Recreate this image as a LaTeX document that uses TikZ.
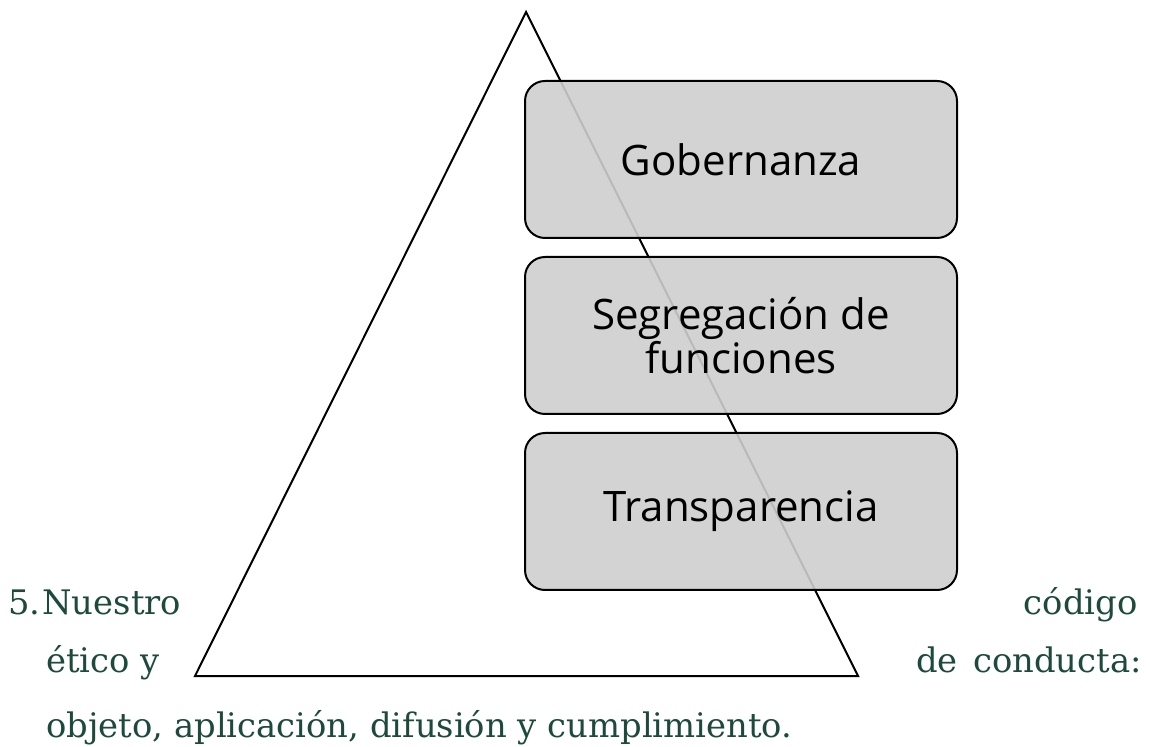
\documentclass[tikz,border=0pt]{standalone}
\usepackage{fontspec}
\setmainfont{DejaVu Serif}
\newfontfamily\boxfont{Open Sans}
\usetikzlibrary{positioning}
\definecolor{textgreen}{HTML}{1E4A3D}
\definecolor{boxgray}{HTML}{CECECE}

\begin{document}
\begin{tikzpicture}[x=0.5pt,y=-0.5pt,
	pillar/.style={fill=boxgray,fill opacity=0.9,text opacity=1,draw=black,line width=1pt,rounded corners=10pt,minimum width=216pt,minimum height=78.5pt,outer sep=0pt,align=center,font=\boxfont\fontsize{21}{20.5}\selectfont},
	para/.style={inner sep=0pt,text=textgreen,font=\fontsize{16.9}{20}\selectfont}]
		\useasboundingbox (0,0) rectangle (1150,747);
		% triangle behind the boxes
		\coordinate (apex) at (526,12);
		\coordinate (baseL) at (195,676);
		\coordinate (baseR) at (858,676);
		\draw[line width=1pt,line join=miter] (apex) -- (baseR) -- (baseL) -- cycle;
		% the three boxes
		\node[pillar] (gob) at (741,159.5) {Gobernanza};
		\node[pillar,below=9.5pt of gob] (seg) {Segregación de\\funciones};
		\node[pillar,below=9.5pt of seg] (tra) {Transparencia};
		% paragraph around the picture
		\node[para,anchor=base west] (num) at (8,615) {5.};
		\node[para,anchor=base west] (l1a) at (42,615) {Nuestro};
		\node[para,anchor=base east] (l1b) at (1138,615) {código};
		\node[para,anchor=base west] (l2a) at (46,672) {ético y};
		\node[para,anchor=base east] (l2b) at (1142,672) {de\hspace{0.45em}conducta:};
		\node[para,anchor=base west] (l3) at (46,737) {objeto, aplicación, difusión y cumplimiento.};
	\end{tikzpicture}
\end{document}
